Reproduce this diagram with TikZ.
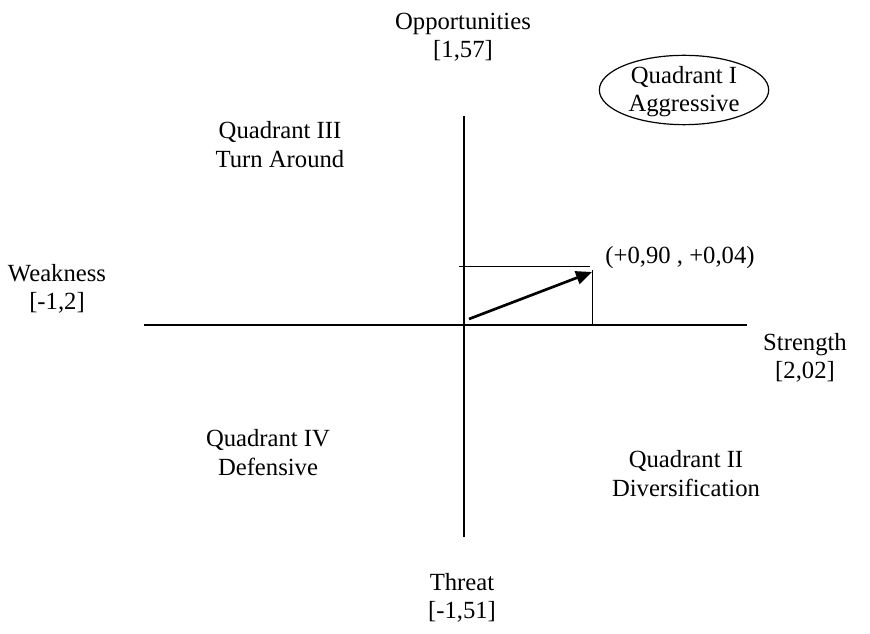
\documentclass[tikz,border=0pt]{standalone}
\usepackage{fontspec}
\setmainfont{Liberation Serif}
\usetikzlibrary{arrows.meta,shapes.geometric}
\begin{document}
\begin{tikzpicture}[x=0.75pt,y=-0.75pt,
  lbl/.style={anchor=base,inner sep=0pt,font=\fontsize{18.5}{22}\selectfont},
  axis/.style={line width=1.6pt},
  thin/.style={line width=0.7pt},
  vec/.style={line width=2pt,-{Triangle[length=12pt,width=10pt]}}]
\useasboundingbox (0,0) rectangle (870,634);
% axes
\coordinate (L) at (144,325);
\coordinate (R) at (747,325);
\coordinate (T) at (464,116);
\coordinate (B) at (464,537);
\draw[axis] (L) -- (R);
\draw[axis] (T) -- (B);
% vector and projections
\coordinate (O) at (469,319);
\coordinate (P) at (592,272);
\coordinate (H0) at (459,266);
\coordinate (H1) at (590,266);
\coordinate (V0) at (592,270);
\coordinate (V1) at (592,324);
\draw[thin] (H0) -- (H1);
\draw[thin] (V0) -- (V1);
\draw[vec] (O) -- (P);
% labels
\node[lbl] (opp1) at (463,30) {Opportunities};
\node[lbl] (opp2) at (463,58) {[1,57]};
\node[lbl] (q3a) at (280,139) {Quadrant III};
\node[lbl] (q3b) at (280,168) {Turn Around};
\node[draw,ellipse,line width=0.9pt,minimum width=127pt,minimum height=52pt,inner sep=0pt] (q1e) at (684,90) {};
\node[lbl] (q1a) at (684,84) {Quadrant I};
\node[lbl] (q1b) at (684,112) {Aggressive};
\node[lbl] (pt) at (680,264) {(+0,90 , +0,04)};
\node[lbl] (wk1) at (57,282) {Weakness};
\node[lbl] (wk2) at (57,310) {[-1,2]};
\node[lbl] (st1) at (805,350) {Strength};
\node[lbl] (st2) at (805,378) {[2,02]};
\node[lbl] (q4a) at (268,446) {Quadrant IV};
\node[lbl] (q4b) at (268,475) {Defensive};
\node[lbl] (q2a) at (686,467) {Quadrant II};
\node[lbl] (q2b) at (686,496) {Diversification};
\node[lbl] (th1) at (462,590) {Threat};
\node[lbl] (th2) at (462,618) {[-1,51]};
\end{tikzpicture}
\end{document}
